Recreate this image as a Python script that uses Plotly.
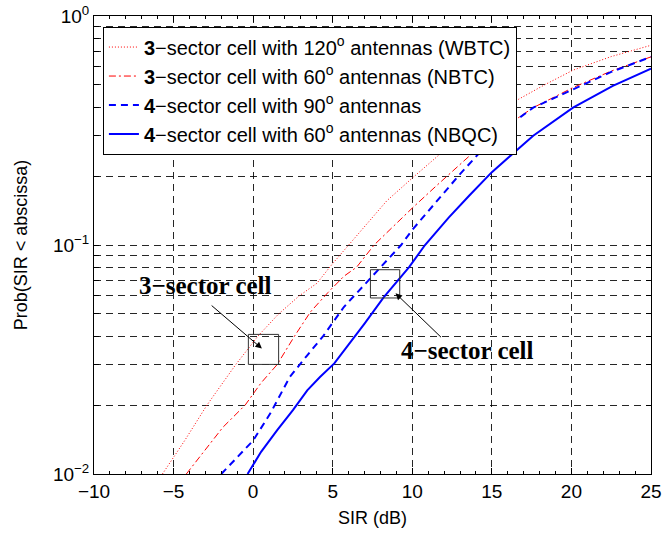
import numpy as np
import plotly.graph_objects as go

# ---- data ----
wbtc_x = [-5.7, -4.3, -2.9, -1.1, 0.3, 1.6, 2.9, 4.0, 5.0, 6.0, 6.9, 8.4, 10.0, 11.9, 13.75, 15.2, 16.6, 18.3, 20.1, 22.5, 25]
wbtc_p = [0.010, 0.014, 0.020, 0.030, 0.040, 0.050, 0.060, 0.068, 0.083, 0.100, 0.117, 0.156, 0.196, 0.255, 0.326, 0.375, 0.43, 0.50, 0.58, 0.665, 0.745]

nbtc_x = [-4.2, -3.0, -1.9, -0.5, 0.5, 1.5, 2.6, 3.6, 4.7, 5.7, 6.5, 7.6, 8.8, 10.0, 11.5, 13.0, 15.0, 17.6, 20.1, 22.5, 25]
nbtc_p = [0.010, 0.0128, 0.016, 0.020, 0.025, 0.030, 0.040, 0.051, 0.062, 0.073, 0.080, 0.100, 0.121, 0.145, 0.181, 0.225, 0.30, 0.398, 0.487, 0.575, 0.663]

q90_x = [-2.0, -1.0, 0.0, 1.1, 2.3, 3.4, 4.4, 5.7, 6.9, 8.0, 9.3, 10.0, 11.0, 12.3, 13.0, 15.2, 17.6, 20.1, 22.5, 25]
q90_p = [0.010, 0.0118, 0.014, 0.0185, 0.0265, 0.033, 0.040, 0.0536, 0.066, 0.080, 0.100, 0.1165, 0.141, 0.179, 0.204, 0.30, 0.398, 0.479, 0.57, 0.663]

nbqc_x = [-0.35, 0.5, 1.5, 2.5, 3.4, 4.2, 5.1, 6.0, 7.0, 8.2, 9.1, 9.8, 10.8, 12.3, 13.6, 15.0, 17.6, 20.1, 22.6, 25]
nbqc_p = [0.010, 0.0125, 0.0155, 0.019, 0.0232, 0.0265, 0.0304, 0.0367, 0.0454, 0.059, 0.070, 0.080, 0.100, 0.132, 0.165, 0.208, 0.300, 0.398, 0.495, 0.589]

names = [
    "<b>3</b>\u2212sector cell with 120<sup>o</sup> antennas (WBTC)",
    "<b>3</b>\u2212sector cell with 60<sup>o</sup> antennas (NBTC)",
    "<b>4</b>\u2212sector cell with 90<sup>o</sup> antennas",
    "<b>4</b>\u2212sector cell with 60<sup>o</sup> antennas (NBQC)",
]

x_ticks = [-10, -5, 0, 5, 10, 15, 20, 25]
x_ticktext = ["\u221210", "\u22125", "0", "5", "10", "15", "20", "25"]
y_decades = [0.01, 0.1, 1.0]
y_decade_text = ["10<sup>\u22122</sup>", "10<sup>\u22121</sup>", "10<sup>0</sup>"]

# ---- figure ----
fig = go.Figure()
fig.add_trace(go.Scatter(x=wbtc_x, y=wbtc_p, mode="lines", name=names[0],
                         line=dict(color="red", width=1, dash="1px,2px")))
fig.add_trace(go.Scatter(x=nbtc_x, y=nbtc_p, mode="lines", name=names[1],
                         line=dict(color="red", width=1, dash="7px,3px,2px,3px")))
fig.add_trace(go.Scatter(x=q90_x, y=q90_p, mode="lines", name=names[2],
                         line=dict(color="blue", width=2, dash="7px,5px")))
fig.add_trace(go.Scatter(x=nbqc_x, y=nbqc_p, mode="lines", name=names[3],
                         line=dict(color="blue", width=2)))

# y ticks at every 1..9 x decade (grid), labels only at decades
y_tickvals = []
y_ticktext = []
for d in [0.01, 0.1]:
    for k in range(1, 10):
        v = round(d * k, 4)
        y_tickvals.append(v)
        y_ticktext.append(y_decade_text[y_decades.index(d)] if k == 1 else "")
y_tickvals.append(1.0)
y_ticktext.append(y_decade_text[2])

font_main = "Liberation Sans, Arial, sans-serif"
grid_col = "rgba(0,0,0,0.85)"

fig.update_layout(
    width=663, height=536,
    margin=dict(l=94, r=12, t=16, b=62),
    paper_bgcolor="white", plot_bgcolor="white",
    font=dict(family=font_main, size=19, color="black"),
    showlegend=True,
    legend=dict(x=0.016, y=0.977, xanchor="left", yanchor="top",
                bgcolor="white", bordercolor="black", borderwidth=1,
                font=dict(family=font_main, size=20, color="black"),
                tracegroupgap=0, itemwidth=30),
    xaxis=dict(range=[-10, 25], tickvals=x_ticks, ticktext=x_ticktext,
               automargin=False,
               ticks="inside", ticklen=6, tickcolor="black",
               showline=True, linecolor="black", linewidth=1, mirror="allticks",
               showgrid=True, gridcolor=grid_col, gridwidth=1, griddash="7px,5px",
               zeroline=False,
               minor=dict(dtick=1, ticks="inside", ticklen=3, tickcolor="black", showgrid=False),
               title=dict(text="SIR (dB)", font=dict(size=18), standoff=10),
               tickfont=dict(size=19)),
    yaxis=dict(type="log", range=[-2, 0], tickvals=y_tickvals, ticktext=y_ticktext,
               automargin=False,
               ticks="inside", ticklen=5, tickcolor="black",
               showline=True, linecolor="black", linewidth=1, mirror="allticks",
               showgrid=True, gridcolor=grid_col, gridwidth=1, griddash="7px,5px",
               zeroline=False,
               title=dict(text="Prob(SIR < abscissa)", font=dict(size=18), standoff=20),
               tickfont=dict(size=19)),
)

# annotation boxes (shapes use data values on log axes)
fig.add_shape(type="rect", xref="x", yref="y", x0=-0.3, x1=1.6, y0=0.0301, y1=0.0407,
              line=dict(color="#333", width=1))
fig.add_shape(type="rect", xref="x", yref="y", x0=7.37, x1=9.21, y0=0.0587, y1=0.078,
              line=dict(color="#333", width=1))

serif = "Liberation Serif, Times New Roman, serif"
fig.add_annotation(x=-3.0, y=np.log10(0.0666), xref="x", yref="y", text="<b>3\u2212sector cell</b>",
                   showarrow=False, font=dict(family=serif, size=25, color="black"))
fig.add_annotation(x=13.5, y=np.log10(0.0347), xref="x", yref="y", text="<b>4\u2212sector cell</b>",
                   showarrow=False, font=dict(family=serif, size=25, color="black"))
# arrows
fig.add_annotation(x=0.55, y=np.log10(0.0353), ax=-2.7, ay=np.log10(0.0551),
                   xref="x", yref="y", axref="x", ayref="y", text="",
                   showarrow=True, arrowhead=2, arrowsize=1.3, arrowwidth=1, arrowcolor="black")
fig.add_annotation(x=8.95, y=np.log10(0.0615), ax=11.9, ay=np.log10(0.0390),
                   xref="x", yref="y", axref="x", ayref="y", text="",
                   showarrow=True, arrowhead=2, arrowsize=1.3, arrowwidth=1, arrowcolor="black")

fig.write_html("out.html")
